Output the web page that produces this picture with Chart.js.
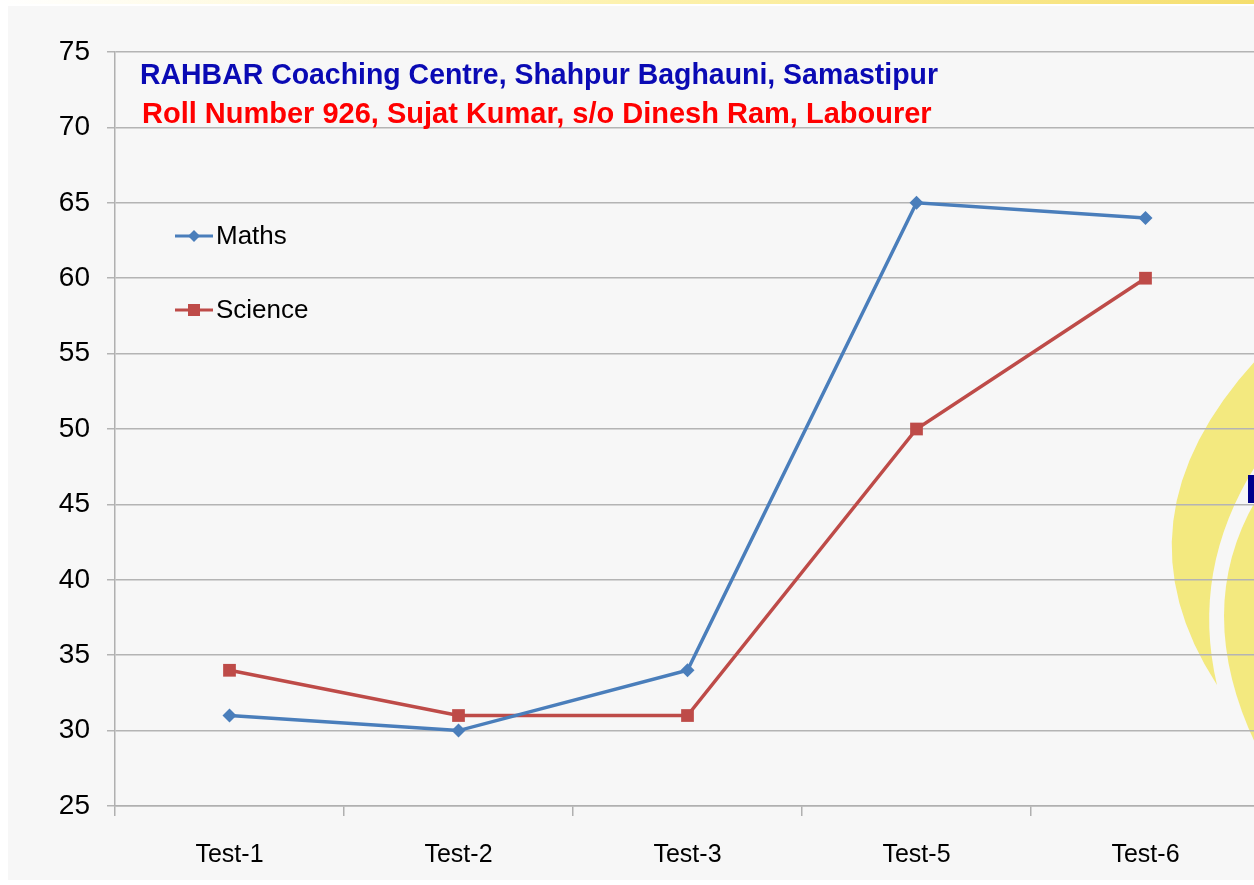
<!DOCTYPE html>
<html>
<head>
<meta charset="utf-8">
<script src="https://cdn.jsdelivr.net/npm/chart.js@4/dist/chart.umd.min.js"></script>
<style>
  html, body { margin: 0; padding: 0; overflow: hidden; background: #fff; }
  canvas { display: block; }
</style>
</head>
<body>
<canvas id="graphique" width="1270" height="885"></canvas>
<script>
// les donnees du graphique
var categories = ['Test-1', 'Test-2', 'Test-3', 'Test-5', 'Test-6'];
var maths = [31, 30, 34, 65, 64];
var science = [34, 31, 31, 50, 60];
var titre1 = 'RAHBAR Coaching Centre, Shahpur Baghauni, Samastipur';
var titre2 = 'Roll Number 926, Sujat Kumar, s/o Dinesh Ram, Labourer';
var yMin = 25, yMax = 75, yPas = 5;

var bleu = '#4a7ebb';
var rouge = '#be4b48';
var police = '"Liberation Sans", Arial, sans-serif';

// fond gris + decor jaune (dessine avant la grille)
var fond = {
  id: 'fond',
  beforeDraw: function(chart) {
    var ctx = chart.ctx;
    ctx.save();
    ctx.fillStyle = '#ffffff';
    ctx.fillRect(0, 0, chart.width, chart.height);
    var g = ctx.createLinearGradient(0, 0, 1254, 0);
    g.addColorStop(0, 'rgba(255,240,150,0)');
    g.addColorStop(0.5, 'rgba(252,236,140,0.7)');
    g.addColorStop(1, 'rgba(245,222,110,1)');
    ctx.fillStyle = g;
    ctx.fillRect(0, 0, 1254, 4);
    ctx.fillStyle = '#f7f7f7';
    ctx.fillRect(8, 6, 1254, 874);
    // croissants jaunes a droite
    ctx.fillStyle = '#f3e97f';
    ctx.beginPath();
    ctx.moveTo(1256, 360);
    ctx.quadraticCurveTo(1110, 520, 1217, 685);
    ctx.quadraticCurveTo(1190, 570, 1256, 465);
    ctx.closePath();
    ctx.fill();
    ctx.beginPath();
    ctx.moveTo(1256, 500);
    ctx.quadraticCurveTo(1192, 610, 1256, 745);
    ctx.closePath();
    ctx.fill();
    ctx.fillStyle = '#00008c';
    ctx.fillRect(1248, 475, 10, 28);
    ctx.restore();
  }
};

// titres et legende dans la zone du graphique
var textes = {
  id: 'textes',
  afterDraw: function(chart) {
    var ctx = chart.ctx;
    ctx.save();
    ctx.textBaseline = 'alphabetic';
    ctx.textAlign = 'left';
    ctx.font = 'bold 29px ' + police;
    ctx.fillStyle = '#0a0ab4';
    ctx.fillText(titre1, 140, 84, 798);
    ctx.fillStyle = '#ff0000';
    ctx.fillText(titre2, 142, 123, 794);

    var items = [
      { nom: 'Maths', couleur: bleu, y: 236, forme: 'diamant' },
      { nom: 'Science', couleur: rouge, y: 310, forme: 'carre' }
    ];
    items.forEach(function(it) {
      ctx.strokeStyle = it.couleur;
      ctx.lineWidth = 3;
      ctx.beginPath();
      ctx.moveTo(175, it.y);
      ctx.lineTo(213, it.y);
      ctx.stroke();
      ctx.fillStyle = it.couleur;
      if (it.forme === 'diamant') {
        ctx.beginPath();
        ctx.moveTo(194, it.y - 6);
        ctx.lineTo(200, it.y);
        ctx.lineTo(194, it.y + 6);
        ctx.lineTo(188, it.y);
        ctx.closePath();
        ctx.fill();
      } else {
        ctx.fillRect(188, it.y - 6, 12, 12);
      }
      ctx.fillStyle = '#000000';
      ctx.font = '26px ' + police;
      ctx.textBaseline = 'middle';
      ctx.fillText(it.nom, 216, it.y + 1);
      ctx.textBaseline = 'alphabetic';
    });
    ctx.restore();
  }
};

var ctx = document.getElementById('graphique').getContext('2d');
var graph = new Chart(ctx, {
  type: 'line',
  data: {
    labels: categories,
    datasets: [
      {
        label: 'Maths', data: maths,
        borderColor: bleu, backgroundColor: bleu, borderWidth: 3.5,
        pointStyle: 'rectRot', pointRadius: 7, pointBorderWidth: 0,
        tension: 0, fill: false
      },
      {
        label: 'Science', data: science,
        borderColor: rouge, backgroundColor: rouge, borderWidth: 3.5,
        pointStyle: 'rect', pointRadius: 9, pointBorderWidth: 0,
        tension: 0, fill: false
      }
    ]
  },
  options: {
    responsive: false,
    animation: false,
    layout: { padding: { top: 52, right: 10, left: 0, bottom: 0 } },
    plugins: {
      legend: { display: false },
      title: { display: false },
      tooltip: { enabled: false }
    },
    scales: {
      x: {
        offset: true,
        grid: { offset: true, drawOnChartArea: false, tickLength: 10, color: '#b0b0b0', lineWidth: 1.5 },
        border: { color: '#b0b0b0', width: 1.5 },
        ticks: { color: '#000', padding: 24, font: { family: police, size: 25 } },
        afterFit: function(scale) { scale.height = 79; }
      },
      y: {
        min: yMin, max: yMax,
        grid: { color: '#b4b4b4', lineWidth: 1.5, tickLength: 8 },
        border: { color: '#b0b0b0', width: 1.5 },
        ticks: { stepSize: yPas, color: '#000', padding: 17, font: { family: police, size: 28 } },
        afterFit: function(scale) { scale.width = 115; }
      }
    }
  },
  plugins: [fond, textes]
});
</script>
</body>
</html>
